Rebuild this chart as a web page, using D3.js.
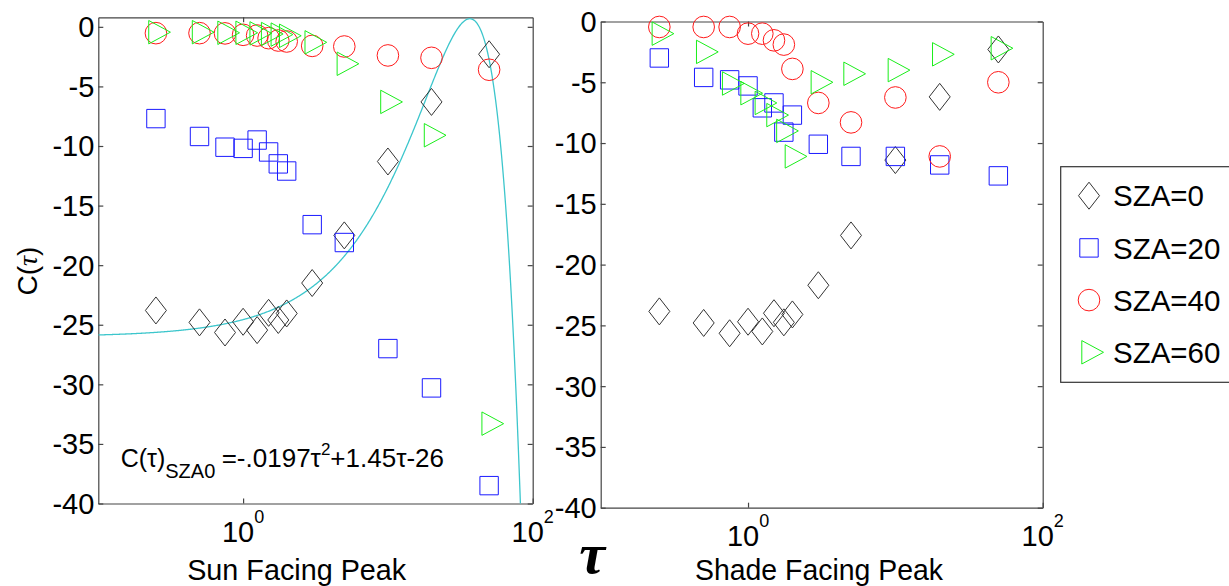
<!DOCTYPE html>
<html>
<head>
<meta charset="utf-8">
<script src="https://cdn.jsdelivr.net/npm/d3@7"></script>
<style>
  body { margin: 0; background: #fff; }
  text { font-family: "Liberation Sans", Arial, Helvetica, sans-serif; fill: #000; }
</style>
</head>
<body>
<script>
const width = 1229;
const height = 586;

// optical depth values (same for every series)
const tau = [0.25, 0.5, 0.75, 1, 1.25, 1.5, 1.75, 2, 3, 5, 10, 20, 50];

// sun facing peak
const sunSZA0 = [-23.8, -24.8, -25.65, -24.75, -25.45, -24.0, -24.6, -24.05, -21.5, -17.5, -11.3, -6.3, -2.3];
const sunSZA20 = [-7.7, -9.2, -10.1, -10.2, -9.5, -10.5, -11.5, -12.1, -16.6, -18.1, -27.0, -30.3, -38.5];
const sunSZA40 = [-0.53, -0.53, -0.55, -0.67, -0.73, -0.95, -1.15, -1.23, -1.6, -1.65, -2.4, -2.6, -3.6];
const sunSZA60 = [-0.45, -0.45, -0.5, -0.5, -0.55, -0.6, -0.65, -0.75, -1.3, -3.1, -6.3, -9.1, -33.3];

// shade facing peak
const shadeSZA0 = [-23.85, -24.8, -25.65, -24.7, -25.5, -24.0, -24.75, -24.1, -21.7, -17.6, -11.4, -6.2, -2.3];
const shadeSZA20 = [-3.0, -4.6, -4.8, -5.3, -7.1, -6.7, -9.1, -7.7, -10.1, -11.1, -11.1, -11.8, -12.7];
const shadeSZA40 = [-0.45, -0.45, -0.45, -1.0, -1.0, -1.55, -1.9, -3.9, -6.7, -8.3, -6.25, -11.1, -5.0];
const shadeSZA60 = [-1.0, -2.5, -5.1, -5.9, -6.7, -7.7, -9.0, -11.1, -5.0, -4.3, -4.0, -2.7, -2.2];

// fit shown on the sun facing panel: C = a*tau^2 + b*tau + c
const fitCoef = [-0.0197, 1.45, -26];

const legendLabels = ["SZA=0", "SZA=20", "SZA=40", "SZA=60"];
const yTicks = [0, -5, -10, -15, -20, -25, -30, -35, -40];
const xTickExp = [0, 2];

const markers = ["diamond", "square", "circle", "triangle"];
const colors = ["#333333", "#1a1aff", "#ff1a1a", "#1aee1a"];

function markerPath(type) {
    if (type === "diamond") return "M0,-13.5L10.5,0L0,13.5L-10.5,0Z";
    if (type === "square") return "M-9.2,-9.2H9.2V9.2H-9.2Z";
    if (type === "circle") return "M10.8,0A10.8,10.8 0 1,1 -10.8,0A10.8,10.8 0 1,1 10.8,0Z";
    return "M-7.2,-11.7L14.5,0L-7.2,11.7Z";
}

const svg = d3.select("body")
    .append("svg")
    .attr("width", width)
    .attr("height", height);

const panels = [
    { name: "Sun Facing Peak", x0: 98.3, x1: 532.7, y0: 17.3, y1: 503.5, yTop: 0.8,
      series: [sunSZA0, sunSZA20, sunSZA40, sunSZA60], fit: true, labelX: 296.7, labelW: 219 },
    { name: "Shade Facing Peak", x0: 600.7, x1: 1042.7, y0: 21.5, y1: 507.7, yTop: 0,
      series: [shadeSZA0, shadeSZA20, shadeSZA40, shadeSZA60], fit: false, labelX: 819, labelW: 248 }
];

panels.forEach((p, pi) => {
    const x = d3.scaleLog().domain([0.1, 100]).range([p.x0, p.x1]);
    const y = d3.scaleLinear().domain([-40, p.yTop]).range([p.y1, p.y0]);
    const g = svg.append("g");

    const clipId = "clip" + pi;
    svg.append("clipPath").attr("id", clipId)
        .append("rect")
        .attr("x", p.x0).attr("y", p.y0)
        .attr("width", p.x1 - p.x0).attr("height", p.y1 - p.y0);

    // axes (ticks inside, box all round)
    const left = g.append("g")
        .attr("transform", `translate(${p.x0},0)`)
        .call(d3.axisLeft(y).tickValues(yTicks).tickSizeInner(-5).tickSizeOuter(0)
            .tickPadding(4).tickFormat(d => String(d)));
    left.selectAll("text").style("font-size", "29px").attr("dy", "0.34em");

    g.append("g")
        .attr("transform", `translate(${p.x1},0)`)
        .call(d3.axisRight(y).tickValues(yTicks).tickSizeInner(-5).tickSizeOuter(0).tickFormat(""));

    g.append("g")
        .attr("transform", `translate(0,${p.y1})`)
        .call(d3.axisBottom(x).tickValues([1, 100]).tickSizeInner(-5).tickSizeOuter(0).tickFormat(""));

    g.append("g")
        .attr("transform", `translate(0,${p.y0})`)
        .call(d3.axisTop(x).tickValues([1]).tickSizeInner(-5).tickSizeOuter(0).tickFormat(""));

    g.selectAll(".domain, .tick line").attr("stroke", "#444").attr("stroke-width", 1.2);

    // 10^n tick labels
    xTickExp.forEach(e => {
        const t = g.append("text")
            .attr("x", x(Math.pow(10, e)))
            .attr("y", p.y1 + 38.5)
            .attr("text-anchor", "middle")
            .style("font-size", "29px")
            .text("10");
        t.append("tspan")
            .attr("dy", -19)
            .style("font-size", "18px")
            .text(String(e));
    });

    // x axis title
    g.append("text")
        .attr("x", p.labelX)
        .attr("y", 580)
        .attr("text-anchor", "middle")
        .attr("textLength", p.labelW)
        .attr("lengthAdjust", "spacingAndGlyphs")
        .style("font-size", "29px")
        .text(p.name);

    // fitted curve
    if (p.fit) {
        const tauFine = d3.range(-1, 2.0001, 0.004).map(e => Math.pow(10, e));
        const fitPts = tauFine.map(t => ({ t: t, c: fitCoef[0] * t * t + fitCoef[1] * t + fitCoef[2] }));
        g.append("path")
            .datum(fitPts)
            .attr("clip-path", `url(#${clipId})`)
            .attr("fill", "none")
            .attr("stroke", "#3cc6cc")
            .attr("stroke-width", 1.3)
            .attr("d", d3.line().x(d => x(d.t)).y(d => y(d.c)));
    }

    // data markers
    p.series.forEach((vals, si) => {
        g.append("g")
            .selectAll("path")
            .data(vals.map((v, i) => ({ t: tau[i], v: v })))
            .join("path")
            .attr("transform", d => `translate(${x(d.t)},${y(d.v)})`)
            .attr("d", markerPath(markers[si]))
            .attr("fill", "none")
            .attr("stroke", colors[si])
            .attr("stroke-width", 1);
    });
});

// y axis title
const yl = svg.append("text")
    .attr("transform", "translate(37,271) rotate(-90)")
    .attr("text-anchor", "middle")
    .style("font-size", "28px")
    .text("C(");
yl.append("tspan").style("font-style", "italic").style("font-family", "Liberation Serif, serif").text("τ");
yl.append("tspan").text(")");

// big tau under the panels
svg.append("text")
    .attr("x", 592)
    .attr("y", 573)
    .attr("text-anchor", "middle")
    .style("font-family", "Liberation Serif, Times New Roman, serif")
    .style("font-style", "italic")
    .style("font-weight", "bold")
    .style("font-size", "58px")
    .text("τ");

// fit equation
const eq = svg.append("text")
    .attr("x", 120.7)
    .attr("y", 467)
    .style("font-size", "25px")
    .text("C(τ)");
eq.append("tspan").attr("dy", 11).style("font-size", "20px").text("SZA0");
eq.append("tspan").attr("x", 221.7).attr("dy", -11).style("font-size", "26px").text("=-.0197τ");
eq.append("tspan").attr("dy", -12).style("font-size", "17px").text("2");
eq.append("tspan").attr("dy", 12).style("font-size", "26px").text("+1.45τ-26");

// legend
const lg = svg.append("g");
lg.append("rect")
    .attr("x", 1060.7).attr("y", 166.7)
    .attr("width", 200).attr("height", 215.6)
    .attr("fill", "#fff")
    .attr("stroke", "#333")
    .attr("stroke-width", 1.2);

legendLabels.forEach((lab, i) => {
    const cy = 195.7 + i * 52.2;
    lg.append("path")
        .attr("transform", `translate(1089,${cy})`)
        .attr("d", markerPath(markers[i]))
        .attr("fill", "none")
        .attr("stroke", colors[i])
        .attr("stroke-width", 1);
    lg.append("text")
        .attr("x", 1113)
        .attr("y", cy)
        .attr("dy", "0.36em")
        .style("font-size", "29.5px")
        .text(lab);
});
</script>
</body>
</html>
